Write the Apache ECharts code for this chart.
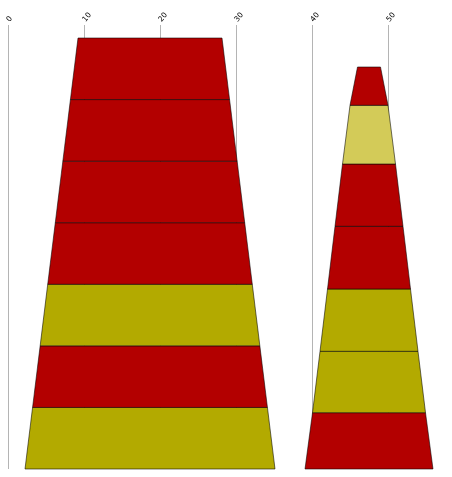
<!DOCTYPE html>
<html>
<head>
<meta charset="utf-8">
<script src="https://cdn.jsdelivr.net/npm/echarts@6/dist/echarts.min.js"></script>
<style>
html,body{margin:0;padding:0;background:#fff;}
#main{width:452px;height:477px;}
</style>
</head>
<body>
<div id="main"></div>
<script>
// x-axis ticks
const axisMin = 0;
const axisMax = 60;
const axisInterval = 10;

// left funnel (bottom to top)
const leftNames = ['A', 'B', 'C', 'D', 'E', 'F', 'G'];
const leftValues = [7, 6, 5, 4, 3, 2, 1];
// right funnel (bottom to top)
const rightNames = ['A', 'B', 'C', 'D', 'E', 'F', 'G'];
const rightValues = [7, 6, 5, 4, 3, 2, 1];
const rightHeights = [56.3, 61.4, 62.3, 62.7, 62.3, 58.7, 38.3];

// styles
const RED = '#b30000', OLIVE = '#b3aa00', LIGHT = '#d3cb58';
const leftColors = [OLIVE, RED, OLIVE, RED, RED, RED, RED];
const rightColors = [RED, OLIVE, OLIVE, RED, RED, LIGHT, RED];

const border = { borderColor: 'rgba(0,0,0,0.55)', borderWidth: 1 };

const leftData = leftValues.map((v, i) => ({
  name: leftNames[i], value: v,
  itemStyle: Object.assign({ color: leftColors[i] }, border)
}));
const rightData = rightValues.map((v, i) => ({
  name: rightNames[i], value: v,
  itemStyle: Object.assign({ color: rightColors[i], height: rightHeights[i] }, border)
}));

const chart = echarts.init(document.getElementById('main'));
chart.setOption({
  animation: false,
  grid: { left: 8, top: 25, width: 456, bottom: 8, containLabel: false, outerBoundsMode: 'none' },
  xAxis: {
    type: 'value', position: 'top',
    min: axisMin, max: axisMax, interval: axisInterval,
    axisLine: { show: false }, axisTick: { show: false },
    axisLabel: { rotate: 50, margin: 4, fontSize: 7.5, color: '#000', fontFamily: 'DejaVu Sans' },
    splitLine: { show: true, lineStyle: { color: '#b4b4b4', width: 1 } }
  },
  yAxis: { type: 'value', show: false },
  series: [
    {
      type: 'funnel', sort: 'ascending', gap: 0,
      left: 25, top: 38, width: 250, height: 431,
      min: 0, max: 7, minSize: 144, maxSize: 250,
      label: { show: false }, labelLine: { show: false },
      emphasis: { disabled: true },
      data: leftData
    },
    {
      type: 'funnel', sort: 'ascending', gap: 0,
      left: 305, top: 38, width: 128, height: 431,
      min: 0, max: 7, minSize: 23, maxSize: 128,
      label: { show: false }, labelLine: { show: false },
      emphasis: { disabled: true },
      data: rightData
    }
  ]
});
</script>
</body>
</html>
